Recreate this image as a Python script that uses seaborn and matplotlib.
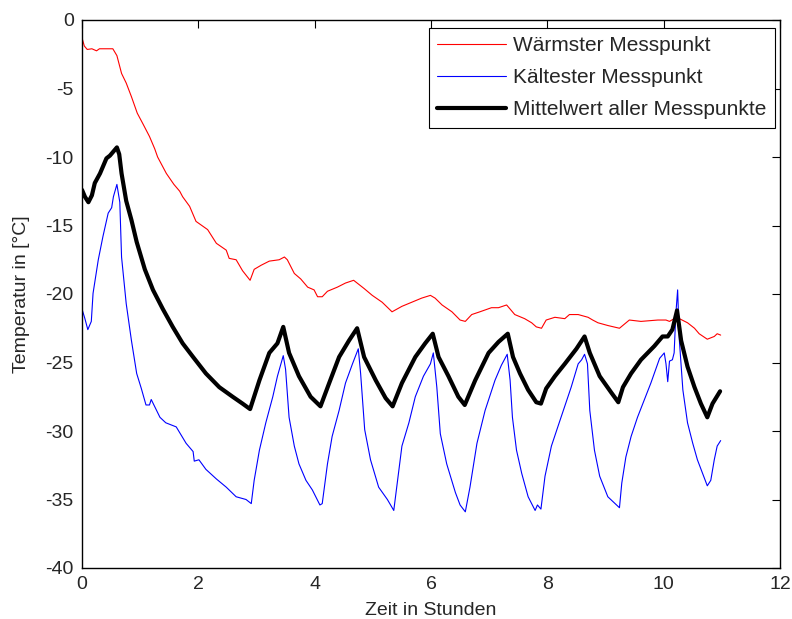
import matplotlib
matplotlib.use("Agg")
import matplotlib.pyplot as plt
import seaborn as sns
import pandas as pd

# Warmest measuring point
warm_t = [0.0, 0.04, 0.09, 0.17, 0.25, 0.30, 0.45, 0.53, 0.60, 0.68, 0.76, 0.85, 0.95, 1.05,
          1.16, 1.25, 1.30, 1.45, 1.58, 1.68, 1.73, 1.85, 1.96, 2.06, 2.16, 2.31, 2.48, 2.53,
          2.65, 2.76, 2.89, 2.96, 3.08, 3.22, 3.39, 3.48, 3.53, 3.65, 3.76, 3.88, 3.99, 4.05,
          4.13, 4.22, 4.39, 4.53, 4.67, 4.73, 4.85, 4.99, 5.16, 5.33, 5.50, 5.67, 5.84, 5.99,
          6.07, 6.19, 6.36, 6.50, 6.59, 6.70, 6.84, 7.04, 7.16, 7.30, 7.44, 7.61, 7.73, 7.81,
          7.90, 7.98, 8.13, 8.30, 8.38, 8.53, 8.70, 8.78, 8.87, 9.04, 9.24, 9.41, 9.61, 9.90,
          10.04, 10.10, 10.18, 10.27, 10.41, 10.53, 10.61, 10.75, 10.87, 10.92, 10.98]
warm_v = [-1.3, -1.9, -2.15, -2.1, -2.25, -2.1, -2.1, -2.1, -2.6, -3.9, -4.6, -5.6, -6.8, -7.6,
          -8.5, -9.4, -10.0, -11.2, -12.0, -12.5, -12.9, -13.6, -14.7, -15.0, -15.3, -16.3, -16.8, -17.4,
          -17.5, -18.3, -19.0, -18.2, -17.9, -17.6, -17.5, -17.3, -17.5, -18.5, -18.9, -19.5, -19.7, -20.2,
          -20.2, -19.8, -19.5, -19.2, -19.0, -19.2, -19.6, -20.1, -20.6, -21.3, -20.9, -20.6, -20.3, -20.1,
          -20.3, -20.8, -21.3, -21.9, -22.0, -21.5, -21.3, -21.0, -21.0, -20.8, -21.5, -21.8, -22.1, -22.4,
          -22.5, -21.9, -21.7, -21.8, -21.5, -21.5, -21.7, -21.9, -22.1, -22.3, -22.5, -21.9, -22.0, -21.9,
          -21.9, -22.0, -21.8, -21.8, -22.1, -22.5, -22.9, -23.3, -23.1, -22.9, -23.0]

# Coldest measuring point
cold_t = [0.0, 0.05, 0.10, 0.16, 0.19, 0.28, 0.36, 0.45, 0.51, 0.54, 0.60, 0.65, 0.68, 0.76,
          0.85, 0.94, 1.02, 1.10, 1.16, 1.19, 1.34, 1.44, 1.62, 1.79, 1.91, 1.93, 2.01, 2.13,
          2.31, 2.48, 2.65, 2.82, 2.91, 2.96, 3.05, 3.16, 3.28, 3.36, 3.42, 3.46, 3.50, 3.56,
          3.65, 3.73, 3.85, 3.96, 4.02, 4.09, 4.13, 4.22, 4.30, 4.42, 4.53, 4.65, 4.75, 4.79,
          4.86, 4.96, 5.10, 5.25, 5.36, 5.42, 5.50, 5.62, 5.73, 5.87, 5.99, 6.04, 6.10, 6.16,
          6.27, 6.42, 6.50, 6.59, 6.67, 6.79, 6.93, 7.10, 7.21, 7.31, 7.36, 7.40, 7.47, 7.56,
          7.67, 7.79, 7.83, 7.89, 7.96, 8.07, 8.18, 8.30, 8.41, 8.53, 8.59, 8.64, 8.69, 8.73,
          8.81, 8.90, 9.04, 9.24, 9.28, 9.35, 9.44, 9.55, 9.67, 9.78, 9.93, 10.01, 10.04, 10.07,
          10.10, 10.15, 10.18, 10.21, 10.24, 10.27, 10.33, 10.41, 10.50, 10.58, 10.67, 10.75, 10.81,
          10.87, 10.92, 10.98]
cold_v = [-21.1, -21.8, -22.6, -22.0, -19.95, -17.5, -15.8, -14.1, -13.7, -12.9, -12.0, -13.3, -17.3, -20.7,
          -23.4, -25.8, -26.9, -28.1, -28.1, -27.7, -29.0, -29.4, -29.7, -30.9, -31.5, -32.2, -32.1, -32.8,
          -33.5, -34.1, -34.8, -35.0, -35.3, -33.6, -31.4, -29.4, -27.5, -26.0, -25.1, -24.5, -25.5, -29.0,
          -31.1, -32.4, -33.6, -34.3, -34.8, -35.4, -35.3, -32.4, -30.4, -28.5, -26.5, -25.1, -24.0, -25.8,
          -29.9, -32.1, -34.1, -35.0, -35.8, -33.8, -31.1, -29.4, -27.5, -26.0, -25.1, -24.3, -26.8, -30.2,
          -32.4, -34.5, -35.4, -35.9, -34.1, -30.9, -28.5, -26.3, -25.2, -24.4, -26.3, -29.0, -31.4, -33.1,
          -34.8, -35.8, -35.4, -35.7, -33.3, -31.1, -29.7, -28.2, -26.8, -25.1, -24.8, -24.4, -25.1, -28.5,
          -31.4, -33.3, -34.8, -35.6, -33.8, -31.9, -30.4, -29.0, -27.7, -26.5, -24.7, -24.3, -25.1, -26.4,
          -24.9, -24.8, -24.3, -21.4, -19.7, -23.4, -27.0, -29.4, -30.9, -32.1, -33.1, -34.0, -33.6,
          -32.1, -31.1, -30.7]

# Mean over all measuring points
mean_t = [0.0, 0.05, 0.11, 0.17, 0.22, 0.31, 0.42, 0.48, 0.60, 0.64, 0.68, 0.76, 0.85, 0.94,
          1.08, 1.22, 1.39, 1.56, 1.73, 1.91, 2.13, 2.36, 2.59, 2.76, 2.89, 3.05, 3.22, 3.36,
          3.46, 3.56, 3.73, 3.93, 4.10, 4.25, 4.42, 4.59, 4.73, 4.85, 5.05, 5.22, 5.34, 5.50,
          5.73, 5.90, 6.03, 6.13, 6.30, 6.47, 6.58, 6.76, 6.99, 7.16, 7.32, 7.41, 7.53, 7.67,
          7.81, 7.89, 7.98, 8.13, 8.30, 8.50, 8.64, 8.73, 8.90, 9.10, 9.22, 9.30, 9.44, 9.61,
          9.84, 9.98, 10.07, 10.15, 10.23, 10.30, 10.41, 10.53, 10.64, 10.75, 10.84, 10.97]
mean_v = [-12.4, -12.9, -13.3, -12.8, -11.9, -11.2, -10.1, -9.9, -9.3, -9.8, -11.2, -13.2, -14.6, -16.2,
          -18.2, -19.7, -21.1, -22.4, -23.6, -24.6, -25.8, -26.8, -27.5, -28.0, -28.4, -26.3, -24.3, -23.6,
          -22.4, -24.3, -26.0, -27.5, -28.2, -26.5, -24.6, -23.4, -22.5, -24.6, -26.3, -27.6, -28.2, -26.5,
          -24.6, -23.6, -22.9, -24.6, -26.0, -27.5, -28.1, -26.3, -24.3, -23.5, -22.9, -24.6, -25.8, -27.0,
          -27.9, -28.0, -26.9, -26.0, -25.1, -24.0, -23.1, -24.3, -26.0, -27.2, -27.9, -26.8, -25.8, -24.8,
          -23.8, -23.1, -23.1, -22.6, -21.2, -23.4, -25.3, -26.8, -28.0, -29.0, -28.0, -27.1]

series_labels = ["Wärmster Messpunkt", "Kältester Messpunkt", "Mittelwert aller Messpunkte"]
x_label = "Zeit in Stunden"
y_label = "Temperatur in [°C]"
x_ticks = [0, 2, 4, 6, 8, 10, 12]
y_ticks = [0, -5, -10, -15, -20, -25, -30, -35, -40]

sns.set_style("white")
plt.rcParams["font.family"] = ["Liberation Sans", "DejaVu Sans"]
plt.rcParams["font.size"] = 14

W, H = 792, 619
fig = plt.figure(figsize=(W / 100, H / 100), dpi=100)
ax = fig.add_axes([82 / W, 1 - 568 / H, (780 - 82) / W, (568 - 20) / H])

styles = [(warm_t, warm_v, "#ff0000", 0.8),
          (cold_t, cold_v, "#0000ff", 0.8),
          (mean_t, mean_v, "#000000", 3.0)]
for (t, v, color, lw), label in zip(styles, series_labels):
    df = pd.DataFrame({"t": t, "v": v})
    sns.lineplot(data=df, x="t", y="v", ax=ax, color=color, linewidth=lw,
                 label=label, sort=False, estimator=None)

ax.set_xlim(0, 12)
ax.set_ylim(-40, 0)
ax.set_xticks(x_ticks)
ax.set_yticks(y_ticks)
ax.set_xticklabels([str(x) for x in x_ticks])
ax.set_yticklabels([str(y) for y in y_ticks])
ax.set_xlabel(x_label, fontsize=14, labelpad=6)
ax.set_ylabel(y_label, fontsize=14, labelpad=11)

for side in ["left", "right", "top", "bottom"]:
    ax.spines[side].set_visible(True)
    ax.spines[side].set_color("black")
    ax.spines[side].set_linewidth(1.0)
ax.tick_params(direction="in", length=6, width=0.8, color="black",
               top=True, right=True, labelsize=14, pad=6)

leg = ax.legend(loc="upper right", bbox_to_anchor=(775 / W, 1 - 28 / H),
                bbox_transform=fig.transFigure, borderaxespad=0,
                frameon=True, fancybox=False, framealpha=1,
                edgecolor="black", fontsize=15, handlelength=3.3, handletextpad=0.34,
                labelspacing=0.62, borderpad=0.4)
leg.get_frame().set_linewidth(0.8)

fig.savefig("out.png", dpi=100)
